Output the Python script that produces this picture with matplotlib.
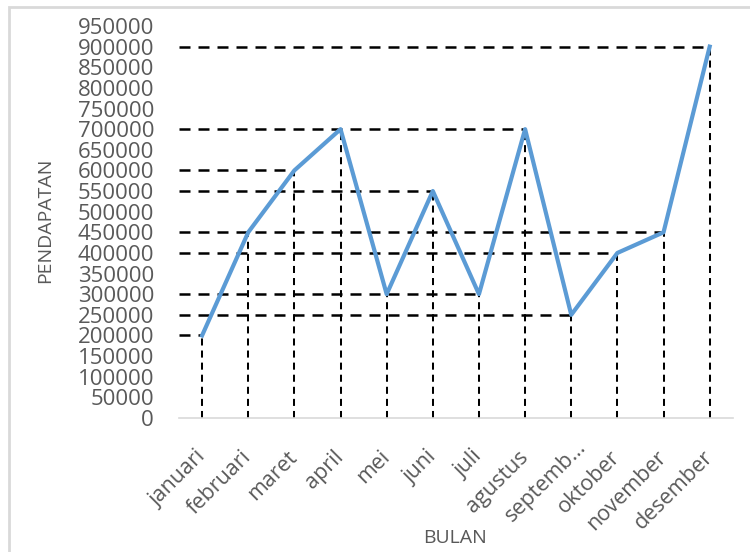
import matplotlib
matplotlib.use("Agg")
import matplotlib.pyplot as plt
from matplotlib.patches import Rectangle
from matplotlib.transforms import ScaledTranslation

bulan = ["januari", "februari", "maret", "april", "mei", "juni", "juli",
         "agustus", "septemb…", "oktober", "november", "desember"]
pendapatan = [200000, 450000, 600000, 700000, 300000, 550000, 300000,
              700000, 250000, 400000, 450000, 900000]
y_ticks = list(range(0, 950001, 50000))

plt.rcParams["font.family"] = ["Open Sans", "DejaVu Sans"]
grey = "#595959"

fig = plt.figure(figsize=(7.5, 5.52), dpi=100)
ax = fig.add_axes([0.2387, 0.2428, 0.977 - 0.2387, 0.9529 - 0.2428])

x = list(range(len(bulan)))

# vertical guide lines from each point down to the axis
for i, v in enumerate(pendapatan):
    ax.plot([i, i], [0, v], color="black", lw=1.45, dashes=(3.5, 2.5), zorder=2)

# horizontal guide lines from the left edge to the last point with that value
last = {}
for i, v in enumerate(pendapatan):
    last[v] = i
for v, i in last.items():
    ax.plot([-0.5, i], [v, v], color="black", lw=1.8, dashes=(4.4, 3.2), zorder=2)

ax.plot(x, pendapatan, color="#5B9BD5", lw=3, zorder=3, solid_joinstyle="round")

ax.set_xlim(-0.5, len(bulan) - 0.5)
ax.set_ylim(0, 950000)
ax.set_yticks(y_ticks)
ax.set_yticklabels([str(t) for t in y_ticks])
ax.set_xticks(x)
ax.set_xticklabels(bulan, rotation=45, ha="right", rotation_mode="anchor", va="center")

for s in ["top", "right", "left"]:
    ax.spines[s].set_visible(False)
ax.spines["bottom"].set_color("#D9D9D9")
ax.spines["bottom"].set_linewidth(1.2)
ax.tick_params(axis="both", length=0, colors=grey, labelsize=16)
ax.tick_params(axis="x", pad=26, labelsize=15.5)
ax.tick_params(axis="y", pad=18)

# the truncated label sits a little further along its diagonal
lbl = ax.get_xticklabels()[8]
lbl.set_transform(lbl.get_transform() + ScaledTranslation(0.12, 0.10, fig.dpi_scale_trans))

fig.text(0.060, 0.60, "PENDAPATAN", rotation=90, color=grey, fontsize=14,
         ha="center", va="center")
fig.text(0.607, 0.025, "BULAN", color=grey, fontsize=14, ha="center", va="center")

# chart border
fig.patches.append(Rectangle((9 / 750, -0.1), 1.2, 1 - 7 / 552 + 0.1,
                             transform=fig.transFigure, fill=False,
                             edgecolor="#D9D9D9", lw=2))

fig.savefig("out.png", dpi=100)
